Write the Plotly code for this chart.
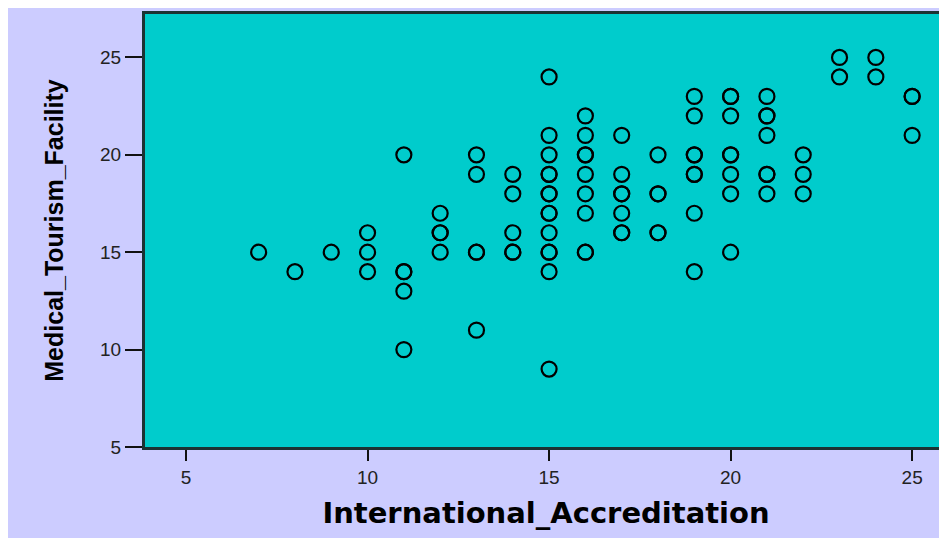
import plotly.graph_objects as go

# International_Accreditation (x) and Medical_Tourism_Facility (y), one entry per case
accreditation = [
    7, 8, 9,
    10, 10, 10,
    11, 11, 11, 11, 11,
    12, 12, 12, 12,
    13, 13, 13, 13, 13,
    14, 14, 14, 14, 14,
    15, 15, 15, 15, 15, 15, 15, 15, 15, 15, 15, 15, 15, 15,
    16, 16, 16, 16, 16, 16, 16, 16, 16,
    17, 17, 17, 17, 17, 17, 17,
    18, 18, 18, 18, 18,
    19, 19, 19, 19, 19, 19, 19, 19,
    20, 20, 20, 20, 20, 20, 20, 20,
    21, 21, 21, 21, 21, 21, 21,
    22, 22, 22,
    23, 23,
    24, 24,
    25, 25, 25,
]
facility = [
    15, 14, 15,
    16, 15, 14,
    20, 14, 14, 13, 10,
    17, 16, 16, 15,
    20, 19, 15, 15, 11,
    19, 18, 16, 15, 15,
    24, 21, 20, 19, 19, 18, 18, 17, 17, 16, 15, 15, 14, 9,
    22, 21, 20, 20, 19, 18, 17, 15, 15,
    21, 19, 18, 18, 17, 16, 16,
    20, 18, 18, 16, 16,
    23, 22, 20, 20, 19, 19, 17, 14,
    23, 23, 22, 20, 20, 19, 18, 15,
    23, 22, 22, 21, 19, 19, 18,
    20, 19, 18,
    25, 24,
    25, 24,
    23, 23, 21,
]

x_ticks = [5, 10, 15, 20, 25]
y_ticks = [5, 10, 15, 20, 25]

W, H = 939, 530
ML, MR, MT, MB = 137, 0, 6, 91

fig = go.Figure(
    go.Scatter(
        x=accreditation,
        y=facility,
        mode="markers",
        marker=dict(symbol="circle-open", size=15, color="black",
                    line=dict(width=2.2, color="black")),
        showlegend=False,
        hoverinfo="x+y",
    )
)

tick_font = dict(family="Liberation Sans, Arial, sans-serif", size=19, color="#222222")

fig.update_layout(
    width=W,
    height=H,
    margin=dict(l=ML, r=MR, t=MT, b=MB, pad=0),
    paper_bgcolor="#CCCCFF",
    plot_bgcolor="#00CCCC",
    xaxis=dict(
        range=[3.87, 25.96],
        tickvals=x_ticks,
        ticktext=[str(v) for v in x_ticks],
        showgrid=False,
        zeroline=False,
        showline=True,
        linecolor="#1c3333",
        linewidth=3,
        mirror=True,
        ticks="outside",
        ticklen=11,
        tickwidth=2,
        tickcolor="#111111",
        tickfont=tick_font,
        title=dict(text="<b>International_Accreditation</b>",
                   font=dict(family="DejaVu Sans, sans-serif", size=29, color="black"),
                   standoff=16),
    ),
    yaxis=dict(
        range=[5, 27.23],
        tickvals=y_ticks,
        ticktext=[str(v) for v in y_ticks],
        showgrid=False,
        zeroline=False,
        showline=True,
        linecolor="#1c3333",
        linewidth=3,
        mirror=False,
        ticks="outside",
        ticklen=17,
        tickwidth=2,
        tickcolor="#111111",
        tickfont=tick_font,
        title=dict(text="<b>Medical_Tourism_Facility</b>",
                   font=dict(family="Liberation Sans, Arial, sans-serif", size=25, color="black"),
                   standoff=30),
    ),
)

fig.write_html(
    "out.html",
    post_script="document.documentElement.style.overflow='hidden';document.body.style.overflow='hidden';",
)
